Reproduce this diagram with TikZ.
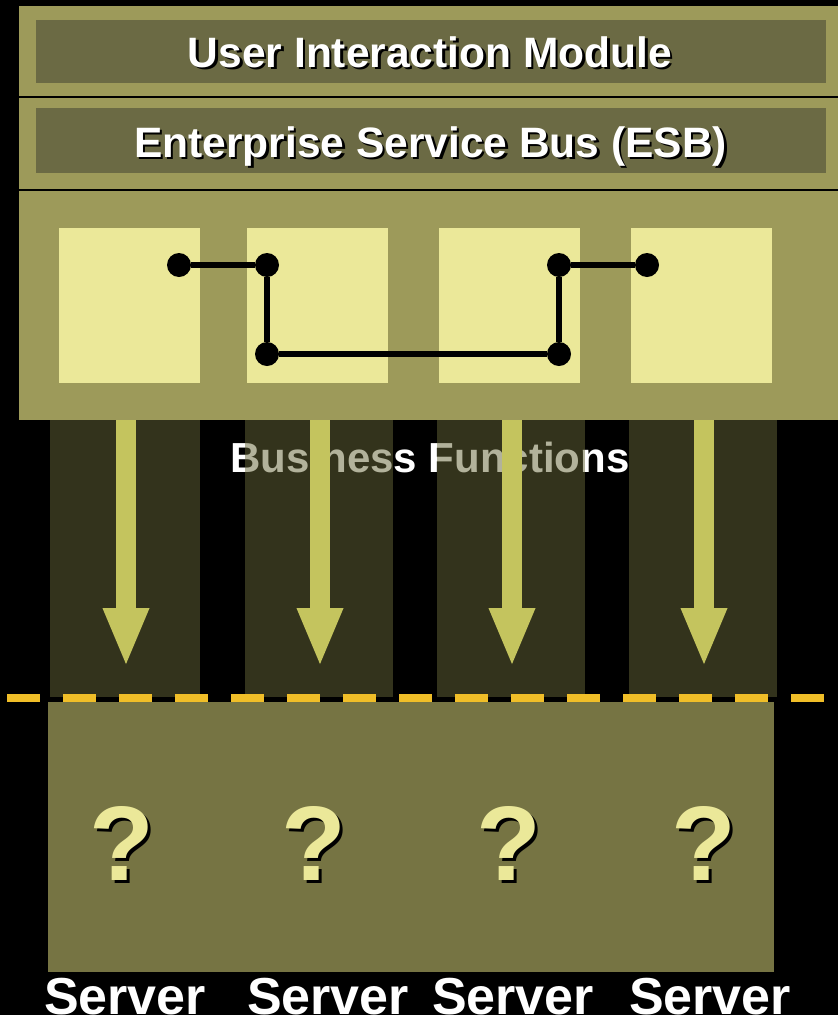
\documentclass[tikz,border=0pt]{standalone}
\usepackage{fontspec}
\setmainfont{Liberation Sans}
\usetikzlibrary{arrows.meta}
\definecolor{bandolive}{RGB}{157,154,90}
\definecolor{darkolive}{RGB}{107,106,68}
\definecolor{paleyellow}{RGB}{235,232,153}
\definecolor{baseolive}{RGB}{118,116,67}
\definecolor{columnolive}{RGB}{102,102,56}
\definecolor{arrowgreen}{RGB}{196,196,94}
\definecolor{dashorange}{RGB}{240,190,40}
\tikzset{
  layertext/.style={anchor=base,inner sep=0pt,text=white,font=\bfseries\fontsize{42.5}{42.5}\selectfont},
  layershadow/.style={layertext,text=black},
  funcbox/.style={fill=paleyellow},
  dot/.style={circle,fill=black,inner sep=0pt,minimum size=24pt},
  wire/.style={draw,line width=6pt},
  column/.style={fill=columnolive,fill opacity=0.5},
  flow/.style={draw=arrowgreen,line width=20pt,-{Triangle[length=59pt,width=42pt,fill=arrowgreen]}},
  qmark/.style={anchor=base,inner sep=0pt,text=paleyellow,font=\bfseries\fontsize{106}{106}\selectfont},
  qshadow/.style={qmark,text=black},
  servertext/.style={anchor=base,inner sep=0pt,text=white,font=\bfseries\fontsize{52}{52}\selectfont}
}
\begin{document}
\begin{tikzpicture}[x=1pt,y=-1pt]
\fill[black] (0,0) rectangle (838,1015);
\useasboundingbox (0,0) rectangle (838,1015);

% layers on top
\fill[bandolive] (19,6) rectangle (838,420);
\draw[black,line width=2pt] (19,97) -- (838,97);
\draw[black,line width=2.5pt] (19,190) -- (838,190);
\fill[darkolive] (36,20) rectangle (826,83);
\fill[darkolive] (36,108) rectangle (826,173);
\node[layershadow] (uims) at (432.5,69.5) {User Interaction Module};
\node[layertext] (uim) at (430,67) {User Interaction Module};
\node[layershadow] (esbs) at (433,159.5) {Enterprise Service Bus (ESB)};
\node[layertext] (esb) at (430.5,157) {Enterprise Service Bus (ESB)};

% business functions
\foreach \x/\n in {59/1,247/2,439/3,631/4}
  \fill[funcbox] (\x,228) rectangle (\x+141,383);
\node[dot] (d1) at (179,265) {};
\node[dot] (d2) at (267,265) {};
\node[dot] (d3) at (267,354) {};
\node[dot] (d4) at (559,354) {};
\node[dot] (d5) at (559,265) {};
\node[dot] (d6) at (647,265) {};
\path[wire] (d1) -- (d2) -- (d3) -- (d4) -- (d5) -- (d6);

\node[anchor=base,inner sep=0pt,text=white,font=\bfseries\fontsize{42}{42}\selectfont] (bf) at (430,472) {Business Functions};

% columns down to the servers
\foreach \a/\b in {50/200,245/393,437/585,629/777}
  \fill[column] (\a,420) rectangle (\b,697);
\foreach \x/\n in {126/1,320/2,512/3,704/4} {
  \coordinate (t\n) at (\x,420);
  \coordinate (h\n) at (\x,667);
  \path[flow] (t\n) -- (h\n);
}

\coordinate (ll) at (7,697.5);
\coordinate (lr) at (838,697.5);
\draw[dashorange,line width=8pt,dash pattern=on 33pt off 23pt] (ll) -- (lr);

% servers
\fill[baseolive] (48,702) rectangle (774,972);
\foreach \x/\n in {122/1,314/2,509/3,704/4} {
  \node[qshadow] (qs\n) at (\x+3,883) {?};
  \node[qmark] (q\n) at (\x,880) {?};
}
\foreach \x/\n in {125/1,328/2,513/3,710/4}
  \node[servertext] (s\n) at (\x,1014) {Server};
\end{tikzpicture}
\end{document}
